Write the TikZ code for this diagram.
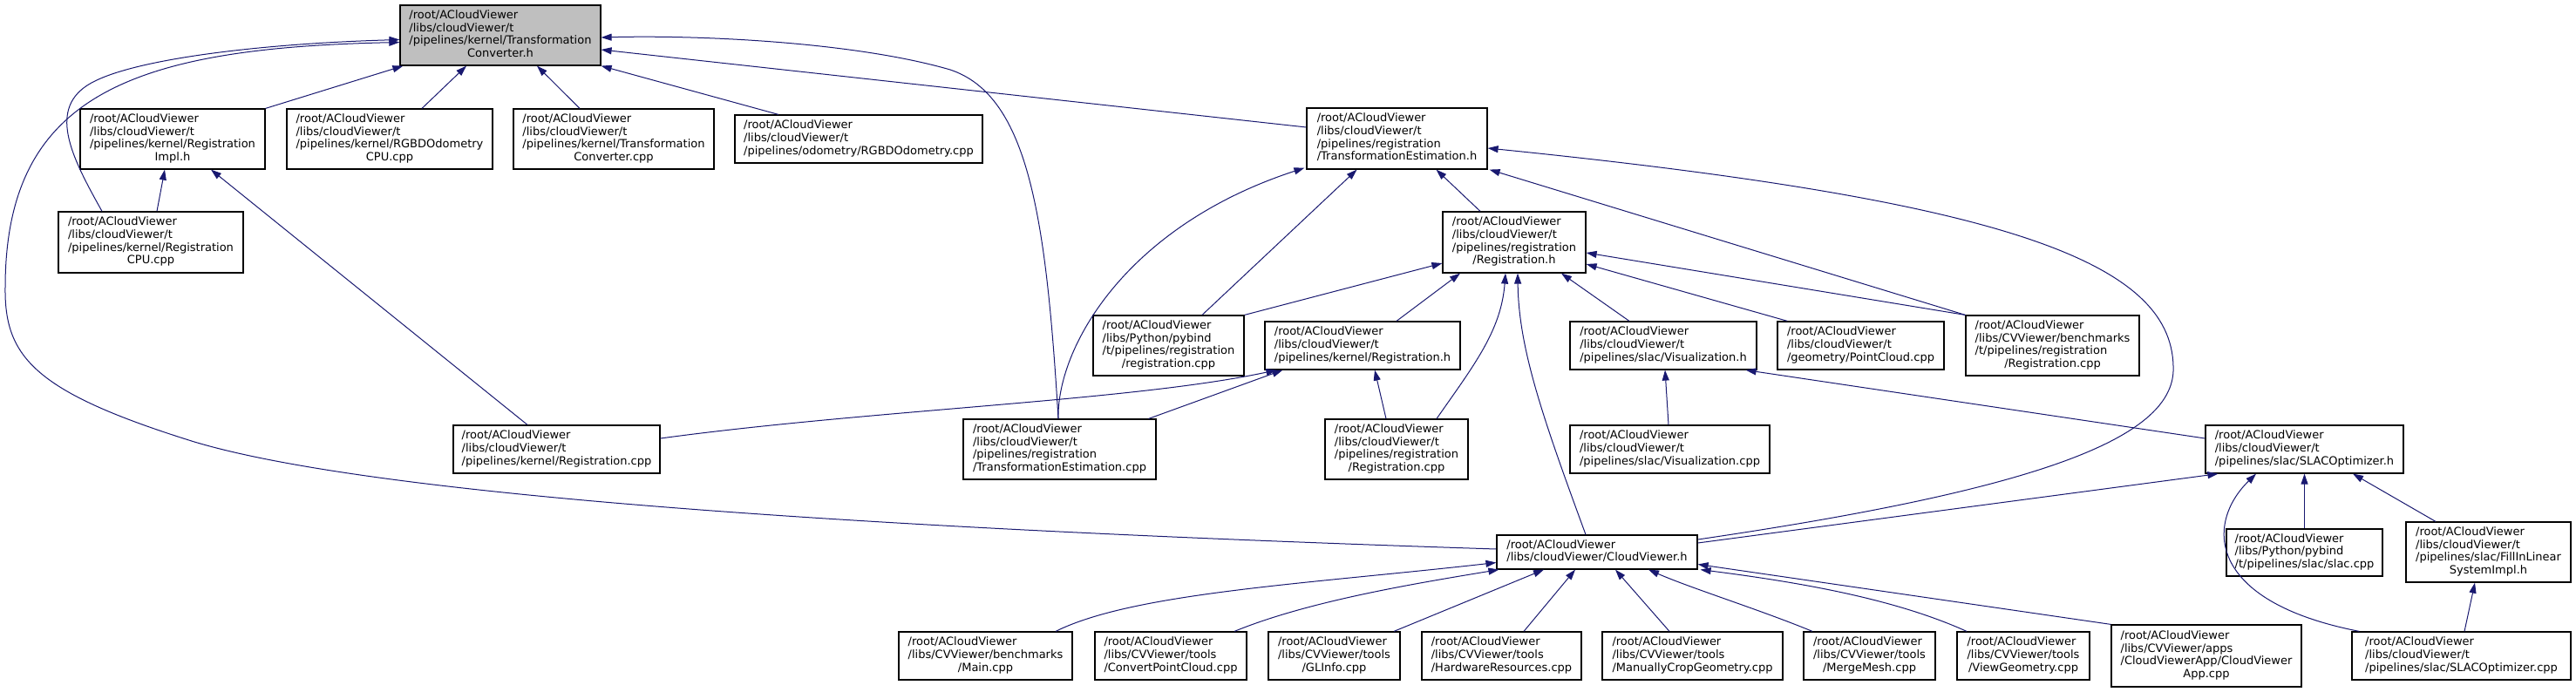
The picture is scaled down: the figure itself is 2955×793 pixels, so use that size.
\documentclass[tikz,border=0pt]{standalone}
\usepackage{fontspec}
\setmainfont{DejaVu Sans}
\usepackage{xcolor}
\usepackage{tikz}
\usetikzlibrary{arrows.meta, calc}

\definecolor{edgeblue}{HTML}{191970}
\definecolor{focusgray}{HTML}{BFBFBF}

% file label: left aligned lines, last line centred
\newcommand{\fname}[2]{\begin{tabular}{@{}l@{}}#1\\\multicolumn{1}{@{}c@{}}{#2}\end{tabular}}

\begin{document}
\begin{tikzpicture}[
    x=1pt, y=-1pt,
    file/.style={
        rectangle,
        draw=black,
        line width=1.2pt,
        fill=white,
        inner sep=0pt,
        font=\fontsize{13}{14.7}\selectfont
    },
    focus/.style={
        file,
        fill=focusgray
    },
    arrow/.style={
        draw=edgeblue,
        line width=1pt,
        -{Triangle[length=12pt, width=8pt]}
    }
]
\useasboundingbox (0,0) rectangle (2955,793);

% Main node
\node[focus, minimum width=230pt, minimum height=69pt] (root) at (574,40.5) {\fname{/root/ACloudViewer\\/libs/cloudViewer/t\\/pipelines/kernel/Transformation}{Converter.h}};

% Second row
\node[file, minimum width=212pt, minimum height=69pt] (regimpl) at (198,159.5) {\fname{/root/ACloudViewer\\/libs/cloudViewer/t\\/pipelines/kernel/Registration}{Impl.h}};
\node[file, minimum width=236pt, minimum height=69pt] (odomcpu) at (447,159.5) {\fname{/root/ACloudViewer\\/libs/cloudViewer/t\\/pipelines/kernel/RGBDOdometry}{CPU.cpp}};
\node[file, minimum width=230pt, minimum height=69pt] (convcpp) at (704,159.5) {\fname{/root/ACloudViewer\\/libs/cloudViewer/t\\/pipelines/kernel/Transformation}{Converter.cpp}};
\node[file, minimum width=284pt, minimum height=55pt] (odomcpp) at (985,159.5) {\fname{/root/ACloudViewer\\/libs/cloudViewer/t}{/pipelines/odometry/RGBDOdometry.cpp}};
\node[file, minimum width=207pt, minimum height=70pt] (teh) at (1602.5,159) {\fname{/root/ACloudViewer\\/libs/cloudViewer/t\\/pipelines/registration}{/TransformationEstimation.h}};

% Third row
\node[file, minimum width=212pt, minimum height=70pt] (regcpu) at (173,278) {\fname{/root/ACloudViewer\\/libs/cloudViewer/t\\/pipelines/kernel/Registration}{CPU.cpp}};
\node[file, minimum width=164pt, minimum height=70pt] (regh) at (1737,278) {\fname{/root/ACloudViewer\\/libs/cloudViewer/t\\/pipelines/registration}{/Registration.h}};

% Fourth row
\node[file, minimum width=173pt, minimum height=69pt] (pyreg) at (1340.5,396.5) {\fname{/root/ACloudViewer\\/libs/Python/pybind\\/t/pipelines/registration}{/registration.cpp}};
\node[file, minimum width=224pt, minimum height=55pt] (kregh) at (1563,396.5) {\fname{/root/ACloudViewer\\/libs/cloudViewer/t}{/pipelines/kernel/Registration.h}};
\node[file, minimum width=214pt, minimum height=55pt] (vish) at (1908,396.5) {\fname{/root/ACloudViewer\\/libs/cloudViewer/t}{/pipelines/slac/Visualization.h}};
\node[file, minimum width=191pt, minimum height=55pt] (pcl) at (2134.5,396.5) {\fname{/root/ACloudViewer\\/libs/cloudViewer/t}{/geometry/PointCloud.cpp}};
\node[file, minimum width=199pt, minimum height=69pt] (benchreg) at (2354.5,396.5) {\fname{/root/ACloudViewer\\/libs/CVViewer/benchmarks\\/t/pipelines/registration}{/Registration.cpp}};

% Fifth row
\node[file, minimum width=237pt, minimum height=55pt] (kregcpp) at (638.5,515.5) {\fname{/root/ACloudViewer\\/libs/cloudViewer/t}{/pipelines/kernel/Registration.cpp}};
\node[file, minimum width=221pt, minimum height=69pt] (tecpp) at (1215.5,515.5) {\fname{/root/ACloudViewer\\/libs/cloudViewer/t\\/pipelines/registration}{/TransformationEstimation.cpp}};
\node[file, minimum width=164pt, minimum height=69pt] (regcpp) at (1602,515.5) {\fname{/root/ACloudViewer\\/libs/cloudViewer/t\\/pipelines/registration}{/Registration.cpp}};
\node[file, minimum width=229pt, minimum height=55pt] (viscpp) at (1915.5,515.5) {\fname{/root/ACloudViewer\\/libs/cloudViewer/t}{/pipelines/slac/Visualization.cpp}};
\node[file, minimum width=227pt, minimum height=55pt] (slach) at (2643.5,515.5) {\fname{/root/ACloudViewer\\/libs/cloudViewer/t}{/pipelines/slac/SLACOptimizer.h}};

% Sixth row
\node[file, minimum width=230pt, minimum height=39pt] (cvh) at (1832,633.5) {\fname{/root/ACloudViewer}{/libs/cloudViewer/CloudViewer.h}};
\node[file, minimum width=179pt, minimum height=54pt] (pyslac) at (2643.5,634) {\fname{/root/ACloudViewer\\/libs/Python/pybind}{/t/pipelines/slac/slac.cpp}};
\node[file, minimum width=189pt, minimum height=69pt] (fill) at (2854.5,633.5) {\fname{/root/ACloudViewer\\/libs/cloudViewer/t\\/pipelines/slac/FillInLinear}{SystemImpl.h}};

% Bottom row
\node[file, minimum width=199pt, minimum height=55pt] (mainb) at (1130.5,752.5) {\fname{/root/ACloudViewer\\/libs/CVViewer/benchmarks}{/Main.cpp}};
\node[file, minimum width=174pt, minimum height=55pt] (convpc) at (1343,752.5) {\fname{/root/ACloudViewer\\/libs/CVViewer/tools}{/ConvertPointCloud.cpp}};
\node[file, minimum width=151pt, minimum height=55pt] (glinfo) at (1530.5,752.5) {\fname{/root/ACloudViewer\\/libs/CVViewer/tools}{/GLInfo.cpp}};
\node[file, minimum width=183pt, minimum height=55pt] (hwres) at (1722.5,752.5) {\fname{/root/ACloudViewer\\/libs/CVViewer/tools}{/HardwareResources.cpp}};
\node[file, minimum width=207pt, minimum height=55pt] (crop) at (1941.5,752.5) {\fname{/root/ACloudViewer\\/libs/CVViewer/tools}{/ManuallyCropGeometry.cpp}};
\node[file, minimum width=151pt, minimum height=55pt] (merge) at (2144.5,752.5) {\fname{/root/ACloudViewer\\/libs/CVViewer/tools}{/MergeMesh.cpp}};
\node[file, minimum width=152pt, minimum height=55pt] (viewg) at (2321,752.5) {\fname{/root/ACloudViewer\\/libs/CVViewer/tools}{/ViewGeometry.cpp}};
\node[file, minimum width=218pt, minimum height=71pt] (cvapp) at (2531,752.5) {\fname{/root/ACloudViewer\\/libs/CVViewer/apps\\/CloudViewerApp/CloudViewer}{App.cpp}};
\node[file, minimum width=251pt, minimum height=55pt] (slaccpp) at (2823.5,752.5) {\fname{/root/ACloudViewer\\/libs/cloudViewer/t}{/pipelines/slac/SLACOptimizer.cpp}};

% Arrows into TransformationConverter.h
\draw[arrow] (regimpl.north east) -- ($(root.south west)+(4,0)$);
\draw[arrow] ($(odomcpu.north)+(37,0)$) -- ($(root.south)+(-39,0)$);
\draw[arrow] ($(convcpp.north)+(-39,0)$) -- ($(root.south)+(42,0)$);
\draw[arrow] ($(odomcpp.north)+(-92,0)$) -- (root.south east);
\draw[arrow] ($(teh.west)+(0,-13)$) -- ($(root.east)+(0,16.5)$);
\draw[arrow] ($(regcpu.north)+(-56,0)$) .. controls (85,185) and (54,128) .. (100,98)
    .. controls (146,68) and (300,50) .. ($(root.west)+(0,5)$);
\draw[arrow] ($(cvh.west)+(0,-3.5)$) .. controls (1100,610) and (450,575) .. (223,507)
    .. controls (40,450) and (5,410) .. (6,330)
    .. controls (6,110) and (150,55) .. ($(root.west)+(0,8)$);
\draw[arrow] ($(tecpp.north)+(-1.5,0)$) .. controls (1200,250) and (1180,110) .. (1090,80)
    .. controls (980,48) and (800,40) .. ($(root.east)+(0,2.5)$);

% Arrows into TransformationEstimation.h
\draw[arrow] ($(regh.north)+(-39,0)$) -- ($(teh.south)+(45,0)$);
\draw[arrow] ($(tecpp.north)+(-1.5,0)$) .. controls (1212,400) and (1290,260) .. ($(teh.south west)+(-2,-2)$);
\draw[arrow] ($(pyreg.north)+(38.5,0)$) -- ($(teh.south)+(-46,0)$);
\draw[arrow] (benchreg.north west) -- ($(teh.south east)+(2,0)$);
\draw[arrow] ($(cvh.east)+(0,-14.5)$) .. controls (2350,560) and (2497,500) .. (2493,420)
    .. controls (2490,300) and (2300,230) .. ($(teh.east)+(0,11)$);

% Arrows into Registration.h
\draw[arrow] (pyreg.north east) -- ($(regh.west)+(0,24)$);
\draw[arrow] ($(kregh.north)+(39,0)$) -- ($(regh.south)+(-62,0)$);
\draw[arrow] ($(regcpp.north)+(46,0)$) .. controls (1690,420) and (1722,380) .. ($(regh.south)+(-10,0)$);
\draw[arrow] ($(cvh.north)+(-13,0)$) .. controls (1770,480) and (1742,400) .. ($(regh.south)+(4,0)$);
\draw[arrow] ($(vish.north)+(-39,0)$) -- ($(regh.south)+(54,0)$);
\draw[arrow] ($(pcl.north west)+(12,0)$) -- ($(regh.east)+(0,25)$);
\draw[arrow] (benchreg.north west) -- ($(regh.east)+(0,12)$);

% Arrows into kernel/Registration.h and RegistrationImpl.h
\draw[arrow] ($(kregcpp.east)+(0,-12.5)$) .. controls (1000,470) and (1300,460) .. ($(kregh.south west)+(14,0)$);
\draw[arrow] ($(tecpp.north east)+(-9,0)$) -- ($(kregh.south west)+(21,0)$);
\draw[arrow] ($(regcpp.north)+(-12,0)$) -- ($(kregh.south)+(14,0)$);
\draw[arrow] ($(regcpu.north)+(7,0)$) -- ($(regimpl.south)+(-9,0)$);
\draw[arrow] ($(kregcpp.north)+(-33.5,0)$) -- ($(regimpl.south)+(44,0)$);

% Arrows into the slac headers
\draw[arrow] ($(viscpp.north)+(-1.5,0)$) -- ($(vish.south)+(2,0)$);
\draw[arrow] ($(slach.west)+(0,-12.5)$) -- ($(vish.south east)+(-13,0)$);
\draw[arrow] ($(cvh.east)+(0,-10.5)$) -- ($(slach.south west)+(15,0)$);
\draw[arrow] ($(slaccpp.north west)+(9,0)$) .. controls (2530,690) and (2530,600) .. ($(slach.south)+(-55.5,0)$);
\draw[arrow] (pyslac.north) -- (slach.south);
\draw[arrow] ($(fill.north)+(-60.5,0)$) -- ($(slach.south)+(55.5,0)$);
\draw[arrow] ($(slaccpp.north)+(3.5,0)$) -- ($(fill.south)+(-15.5,0)$);

% Arrows into CloudViewer.h
\draw[arrow] ($(mainb.north)+(80.5,0)$) .. controls (1300,680) and (1500,670) .. ($(cvh.west)+(0,12)$);
\draw[arrow] ($(convpc.north)+(73,0)$) .. controls (1500,690) and (1620,670) .. ($(cvh.south west)+(3,0)$);
\draw[arrow] ($(glinfo.north)+(68.5,0)$) -- ($(cvh.south)+(-61,0)$);
\draw[arrow] ($(hwres.north)+(25.5,0)$) -- ($(cvh.south)+(-25,0)$);
\draw[arrow] ($(crop.north)+(-26.5,0)$) -- ($(cvh.south)+(21,0)$);
\draw[arrow] ($(merge.north)+(-65.5,0)$) .. controls (2020,700) and (1940,675) .. ($(cvh.south)+(59,0)$);
\draw[arrow] ($(viewg.north)+(-65,0)$) .. controls (2180,690) and (2080,670) .. ($(cvh.south east)+(3,0)$);
\draw[arrow] (cvapp.north west) -- ($(cvh.east)+(0,14)$);

\end{tikzpicture}
\end{document}
